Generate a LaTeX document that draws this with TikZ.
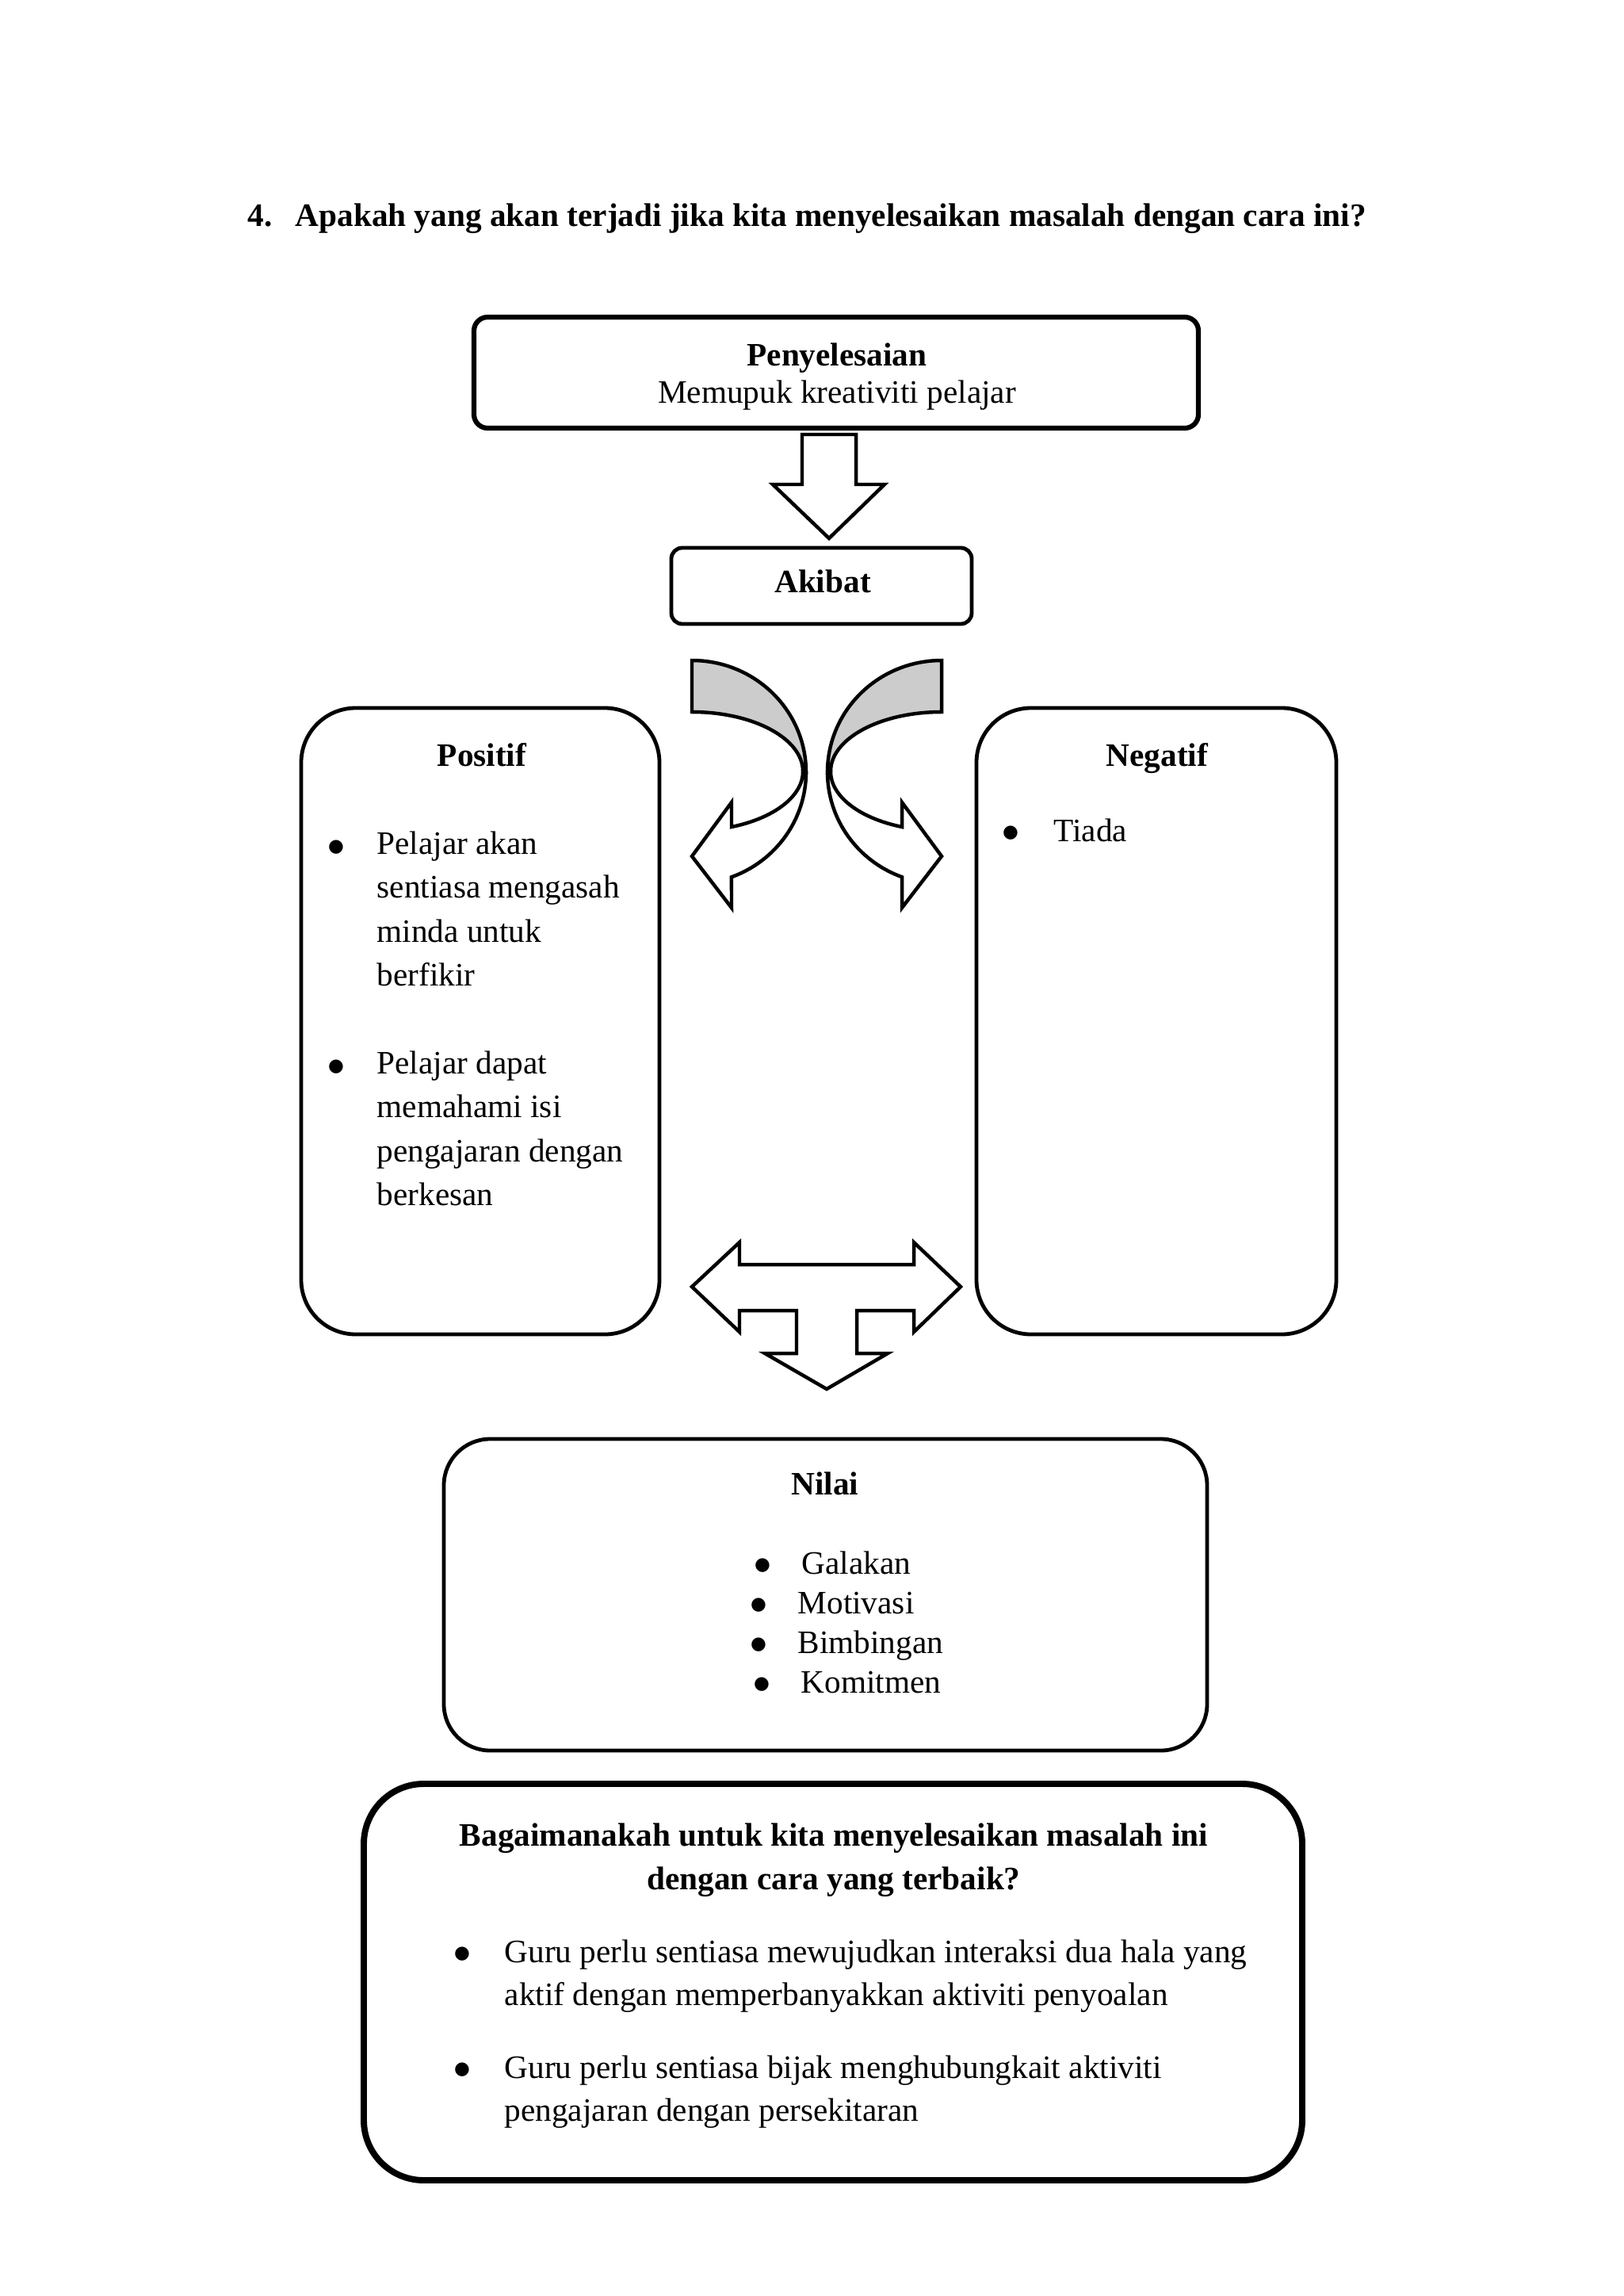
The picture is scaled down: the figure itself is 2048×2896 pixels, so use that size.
\documentclass[tikz,border=0pt]{standalone}
\usepackage{fontspec}
\setmainfont{Liberation Serif}
\newfontfamily\bulfont{DejaVu Sans}
\tikzset{
  x=0.290664pt, y=-0.290664pt,
  box/.style={draw=black, line width=1.4pt, fill=white},
  blk/.style={draw=black, line width=1.3pt, fill=white, line join=miter},
  txt/.style={inner sep=0pt, anchor=base west, font=\fontsize{12}{14}\selectfont},
  para/.style={inner sep=0pt, anchor=base west, align=left, font=\fontsize{12}{#1}\selectfont},
  bul/.style={inner sep=0pt, anchor=base, font=\bulfont\fontsize{6.6}{7}\selectfont},
  ttl/.style={inner sep=0pt, anchor=base, font=\fontsize{12}{14}\selectfont\bfseries},
  ctr/.style={inner sep=0pt, anchor=base, font=\fontsize{12}{14}\selectfont},
}
\begin{document}
\begin{tikzpicture}
\useasboundingbox[fill=white] (0,0) rectangle (2048,2896);

% title
\node[txt, font=\fontsize{12}{14}\selectfont\bfseries] (qnum) at (312,285) {4.};
\node[txt, font=\fontsize{12}{14}\selectfont\bfseries] (qtext) at (372,285) {Apakah yang akan terjadi jika kita menyelesaikan masalah dengan cara ini?};

% Penyelesaian box
\draw[box, line width=1.8pt, rounded corners=5pt] (598,400) rectangle (1512,540);
\node[ttl] (pen) at (1056,461) {Penyelesaian};
\node[ctr] (penb) at (1056,508) {Memupuk kreativiti pelajar};

% down arrow
\draw[blk] (1012,548) -- (1080,548) -- (1080,611) -- (1116,611) -- (1046,679) -- (975,611) -- (1012,611) -- cycle;

% Akibat box
\draw[box, rounded corners=4pt] (847,691) rectangle (1226,787);
\node[ttl] (akibat) at (1038,747) {Akibat};

% curved arrows (left one, then mirrored)
\foreach \m in {0,1}{
\begin{scope}[shift={(\m*2061,0)}, xscale={1-2*\m}]
  \draw[blk, fill=black!20] (873,833) arc[start angle=-90, end angle=0, x radius=144, y radius=141]
     -- (1013,973) arc[start angle=0, end angle=-90, x radius=140, y radius=75] -- cycle;
  \draw[blk] (1017,974) arc[start angle=0, end angle=69.7, x radius=144, y radius=141]
     -- (923,1145) -- (873,1080) -- (923,1012) -- (923,1043)
     arc[start angle=69.1, end angle=0, x radius=140, y radius=75] -- cycle;
\end{scope}
}

% Positif box
\draw[box, rounded corners=20pt] (380,893) rectangle (832,1683);
\node[ttl] (pos) at (608,966) {Positif};
\node[bul] (pb1) at (424,1074) {●};
\node[para=15.99pt] (p1) at (475,1243) {Pelajar akan\\sentiasa mengasah\\minda untuk\\berfikir};
\node[bul] (pb2) at (424,1351) {●};
\node[para=15.99pt] (p2) at (475,1520) {Pelajar dapat\\memahami isi\\pengajaran dengan\\berkesan};

% Negatif box
\draw[box, rounded corners=20pt] (1232,893) rectangle (1686,1683);
\node[ttl] (neg) at (1460,966) {Negatif};
\node[bul] (nb1) at (1275,1056) {●};
\node[txt] (n1) at (1329,1061) {Tiada};

% cross arrow
\draw[blk] (873,1623) -- (933,1567) -- (933,1595) -- (1153,1595) -- (1153,1567) -- (1212,1623)
  -- (1153,1680) -- (1153,1653) -- (1081,1653) -- (1081,1707) -- (1120,1707) -- (1043,1752)
  -- (965,1707) -- (1005,1707) -- (1005,1653) -- (933,1653) -- (933,1680) -- cycle;

% Nilai box
\draw[box, rounded corners=17pt] (560,1815) rectangle (1523,2208);
\node[ttl] (nilai) at (1041,1885) {Nilai};
\node[bul] (vb1) at (962,1980) {●};
\node[txt] (v1) at (1011,1985) {Galakan};
\node[bul] (vb2) at (957,2030) {●};
\node[txt] (v2) at (1006,2035) {Motivasi};
\node[bul] (vb3) at (957,2080) {●};
\node[txt] (v3) at (1006,2085) {Bimbingan};
\node[bul] (vb4) at (961,2130) {●};
\node[txt] (v4) at (1010,2135) {Komitmen};

% bottom box
\draw[box, line width=2.3pt, rounded corners=22pt] (459,2250) rectangle (1643,2750);
\node[ttl, align=center, font=\fontsize{12}{15.99pt}\selectfont\bfseries] (bq) at (1052,2383) {Bagaimanakah untuk kita menyelesaikan masalah ini\\dengan cara yang terbaik?};
\node[bul] (bb1) at (583,2470) {●};
\node[para=15.7pt] (b1) at (636,2529) {Guru perlu sentiasa mewujudkan interaksi dua hala yang\\aktif dengan memperbanyakkan aktiviti penyoalan};
\node[bul] (bb2) at (583,2616) {●};
\node[para=15.7pt] (b2) at (636,2675) {Guru perlu sentiasa bijak menghubungkait aktiviti\\pengajaran dengan persekitaran};
\end{tikzpicture}
\end{document}
